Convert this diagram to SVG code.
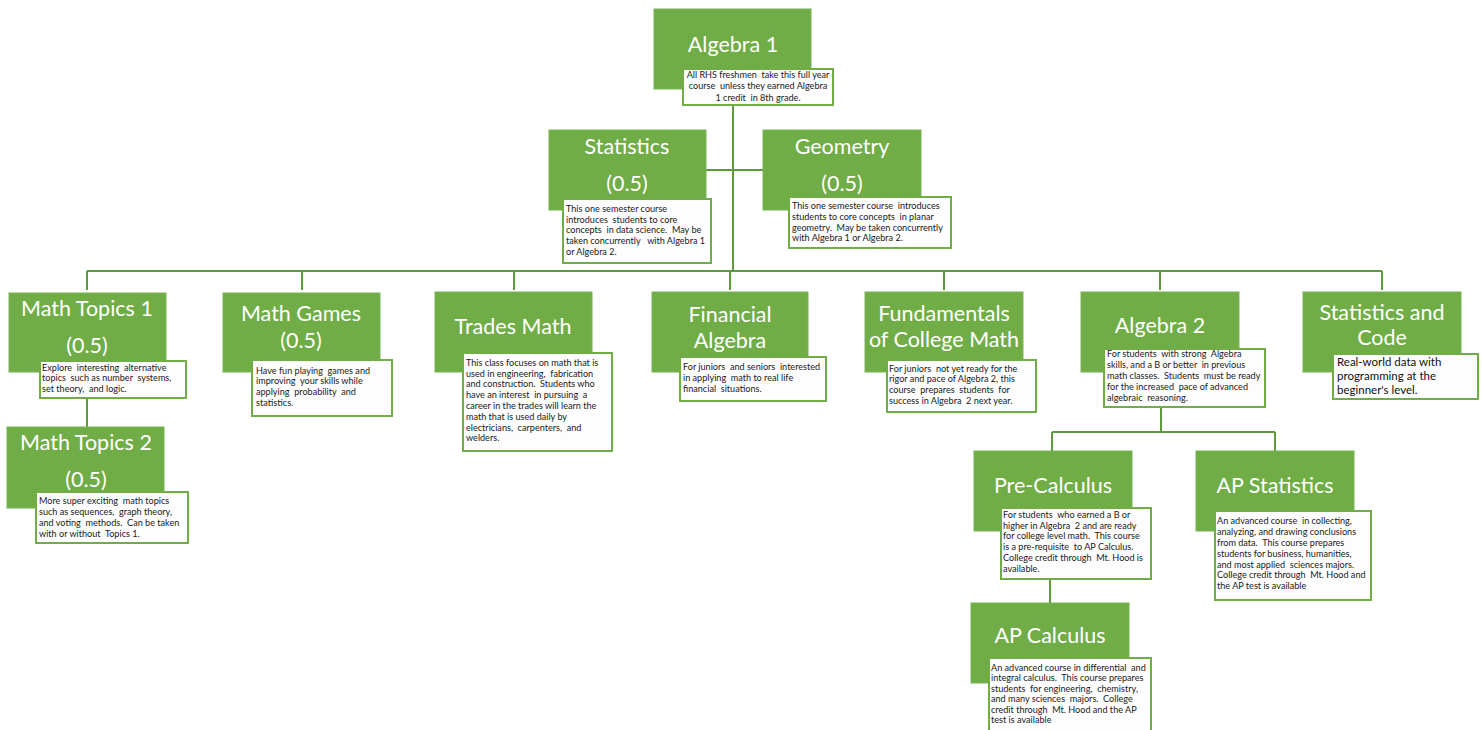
<svg xmlns="http://www.w3.org/2000/svg" width="1483" height="730" viewBox="0 0 1483 730">
<style>
.g{fill:#70ad47;stroke:#78b352;stroke-width:1}
.d{fill:#fdfdfd;stroke:#70ad47;stroke-width:2}
.t{font-family:Lato,"Liberation Sans",sans-serif;font-size:21.5px;fill:#ffffff;text-anchor:middle}
.s{font-family:Lato,"Liberation Sans",sans-serif;font-size:9.1px;fill:#1a1a1a;white-space:pre}
.c{fill:none;stroke:#5e9a3b;stroke-width:2}
</style>
<rect width="1483" height="730" fill="#ffffff"/>
<g id="connectors">
<path class="c" d="M733 105V271M706 170H763M87 271H1382M87 271V290M302 271V290M514 271V290M730 271V290M944 271V290M1160 271V290M1382 271V290"/>
<path class="c" d="M87 398V427"/>
<path class="c" d="M1161 407V432M1052 432H1275M1052 432V451M1275 432V451"/>
<path class="c" d="M1050 579V603"/>
</g>
<g id="algebra1">
<rect class="g" x="654" y="9" width="157" height="80"/>
<text class="t" x="733" y="52">Algebra 1</text>
<rect class="d" x="683" y="69" width="150" height="36"/>
<text class="s" text-anchor="middle"><tspan x="758" y="78">All RHS freshmen  take this full year</tspan><tspan x="758" y="89">course  unless they earned Algebra</tspan><tspan x="758" y="101">1 credit  in 8th grade.</tspan></text>
</g>
<g id="statistics">
<rect class="g" x="549" y="130" width="157" height="80"/>
<text class="t" x="627" y="154">Statistics</text>
<text class="t" x="627" y="191">(0.5)</text>
<rect class="d" x="563" y="199" width="148" height="64"/>
<text class="s"><tspan x="566" y="212">This one semester course</tspan><tspan x="566" y="223">introduces  students to core</tspan><tspan x="566" y="233">concepts  in data science.  May be</tspan><tspan x="566" y="244">taken concurrently   with Algebra 1</tspan><tspan x="566" y="255">or Algebra 2.</tspan></text>
</g>
<g id="geometry">
<rect class="g" x="763" y="130" width="158" height="80"/>
<text class="t" x="842" y="154">Geometry</text>
<text class="t" x="842" y="191">(0.5)</text>
<rect class="d" x="789" y="197" width="162" height="51"/>
<text class="s"><tspan x="792" y="209">This one semester course  introduces</tspan><tspan x="792" y="220">students to core concepts  in planar</tspan><tspan x="792" y="231">geometry.  May be taken concurrently</tspan><tspan x="792" y="241">with Algebra 1 or Algebra 2.</tspan></text>
</g>
<g id="mathtopics1">
<rect class="g" x="9" y="293" width="157" height="79"/>
<text class="t" x="87" y="316">Math Topics 1</text>
<text class="t" x="87" y="353">(0.5)</text>
<rect class="d" x="40" y="361" width="146" height="37"/>
<text class="s"><tspan x="42" y="371">Explore  interesting  alternative</tspan><tspan x="42" y="381">topics  such as number  systems,</tspan><tspan x="42" y="392">set theory,  and logic.</tspan></text>
</g>
<g id="mathtopics2">
<rect class="g" x="7" y="427" width="157" height="81"/>
<text class="t" x="86" y="450">Math Topics 2</text>
<text class="t" x="86" y="487">(0.5)</text>
<rect class="d" x="36" y="492" width="152" height="51"/>
<text class="s"><tspan x="39" y="504">More super exciting  math topics</tspan><tspan x="39" y="515">such as sequences,  graph theory,</tspan><tspan x="39" y="526">and voting  methods.  Can be taken</tspan><tspan x="39" y="537">with or without  Topics 1.</tspan></text>
</g>
<g id="mathgames">
<rect class="g" x="223" y="293" width="157" height="79"/>
<text class="t" x="301" y="321">Math Games</text>
<text class="t" x="301" y="348">(0.5)</text>
<rect class="d" x="252" y="360" width="140" height="56"/>
<text class="s"><tspan x="256" y="374">Have fun playing  games and</tspan><tspan x="256" y="384">improving  your skills while</tspan><tspan x="256" y="395">applying  probability  and</tspan><tspan x="256" y="406">statistics.</tspan></text>
</g>
<g id="tradesmath">
<rect class="g" x="435" y="292" width="157" height="80"/>
<text class="t" x="513" y="334">Trades Math</text>
<rect class="d" x="463" y="353" width="149" height="98"/>
<text class="s"><tspan x="466" y="366">This class focuses on math that is</tspan><tspan x="466" y="377">used in engineering,  fabrication</tspan><tspan x="466" y="387">and construction.  Students who</tspan><tspan x="466" y="398">have an interest  in pursuing  a</tspan><tspan x="466" y="409">career in the trades will learn the</tspan><tspan x="466" y="420">math that is used daily by</tspan><tspan x="466" y="431">electricians,  carpenters,  and</tspan><tspan x="466" y="441">welders.</tspan></text>
</g>
<g id="financial">
<rect class="g" x="652" y="292" width="156" height="80"/>
<text class="t" x="730" y="322">Financial</text>
<text class="t" x="730" y="348">Algebra</text>
<rect class="d" x="680" y="357" width="146" height="44"/>
<text class="s"><tspan x="683" y="370">For juniors  and seniors  interested</tspan><tspan x="683" y="381">in applying  math to real life</tspan><tspan x="683" y="392">financial  situations.</tspan></text>
</g>
<g id="fundamentals">
<rect class="g" x="865" y="292" width="158" height="80"/>
<text class="t" x="944" y="321">Fundamentals</text>
<text class="t" x="944" y="347">of College Math</text>
<rect class="d" x="887" y="360" width="149" height="52"/>
<text class="s"><tspan x="889" y="372">For juniors  not yet ready for the</tspan><tspan x="889" y="382">rigor and pace of Algebra 2, this</tspan><tspan x="889" y="393">course  prepares  students  for</tspan><tspan x="889" y="404">success in Algebra  2 next year.</tspan></text>
</g>
<g id="algebra2">
<rect class="g" x="1081" y="292" width="158" height="80"/>
<text class="t" x="1160" y="333">Algebra 2</text>
<rect class="d" x="1104" y="349" width="161" height="58"/>
<text class="s"><tspan x="1107" y="357">For students  with strong  Algebra</tspan><tspan x="1107" y="368">skills, and a B or better  in previous</tspan><tspan x="1107" y="379">math classes.  Students  must be ready</tspan><tspan x="1107" y="390">for the increased  pace of advanced</tspan><tspan x="1107" y="401">algebraic  reasoning.</tspan></text>
</g>
<g id="statscode">
<rect class="g" x="1303" y="292" width="158" height="80"/>
<text class="t" x="1382" y="320">Statistics and</text>
<text class="t" x="1382" y="345">Code</text>
<rect class="d" x="1333" y="354" width="145" height="45"/>
<text class="s" style="font-size:11.5px;fill:#111"><tspan x="1337" y="366">Real-world data with</tspan><tspan x="1337" y="380">programming at the</tspan><tspan x="1337" y="394">beginner's level.</tspan></text>
</g>
<g id="precalculus">
<rect class="g" x="974" y="451" width="158" height="80"/>
<text class="t" x="1053" y="493">Pre-Calculus</text>
<rect class="d" x="1001" y="508" width="150" height="71"/>
<text class="s"><tspan x="1003" y="518">For students  who earned a B or</tspan><tspan x="1003" y="529">higher in Algebra  2 and are ready</tspan><tspan x="1003" y="539">for college level math.  This course</tspan><tspan x="1003" y="550">is a pre-requisite  to AP Calculus.</tspan><tspan x="1003" y="561">College credit through  Mt. Hood is</tspan><tspan x="1003" y="572">available.</tspan></text>
</g>
<g id="apstatistics">
<rect class="g" x="1196" y="451" width="158" height="80"/>
<text class="t" x="1275" y="493">AP Statistics</text>
<rect class="d" x="1215" y="511" width="156" height="89"/>
<text class="s"><tspan x="1217" y="524">An advanced course  in collecting,</tspan><tspan x="1217" y="535">analyzing, and drawing conclusions</tspan><tspan x="1217" y="546">from data.  This course prepares</tspan><tspan x="1217" y="557">students for business, humanities,</tspan><tspan x="1217" y="568">and most applied  sciences majors.</tspan><tspan x="1217" y="578">College credit through  Mt. Hood and</tspan><tspan x="1217" y="589">the AP test is available</tspan></text>
</g>
<g id="apcalculus">
<rect class="g" x="971" y="603" width="158" height="80"/>
<text class="t" x="1050" y="643">AP Calculus</text>
<rect class="d" x="989" y="658" width="162" height="74"/>
<text class="s"><tspan x="991" y="671">An advanced course in differential  and</tspan><tspan x="991" y="681">integral calculus.  This course prepares</tspan><tspan x="991" y="692">students  for engineering,  chemistry,</tspan><tspan x="991" y="702">and many sciences  majors.  College</tspan><tspan x="991" y="713">credit through  Mt. Hood and the AP</tspan><tspan x="991" y="723">test is available</tspan></text>
</g>
</svg>
